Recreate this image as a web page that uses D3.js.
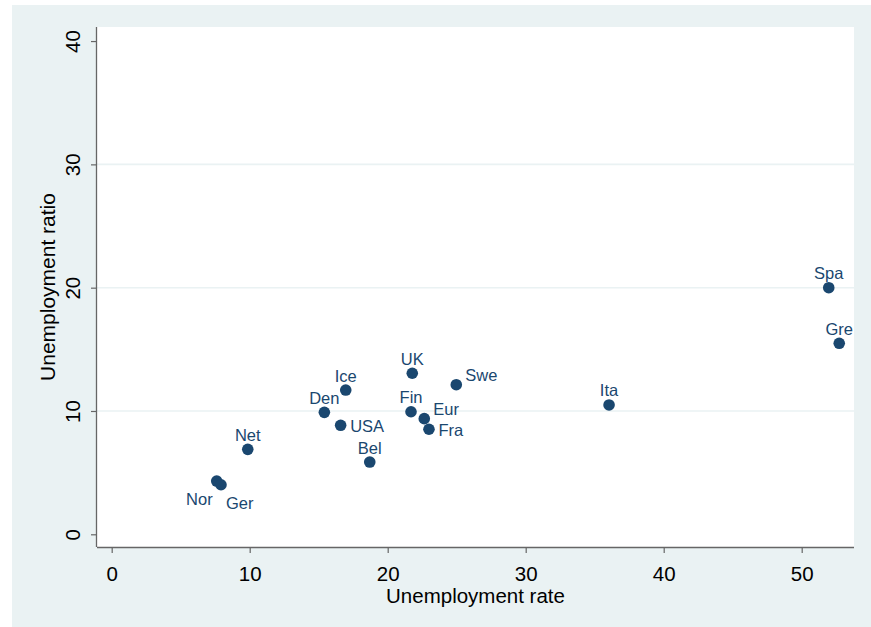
<!DOCTYPE html>
<html>
<head>
<meta charset="utf-8">
<script src="https://cdn.jsdelivr.net/npm/d3@7"></script>
<style>
  html, body { margin: 0; padding: 0; background: #ffffff; }
  svg { display: block; font-family: "Liberation Sans", Arial, Helvetica, sans-serif; }
</style>
</head>
<body>
<svg id="chart" width="871" height="627"></svg>
<script>
// ---- data ----
const countries = ["Nor", "Ger", "Net", "Den", "Ice", "USA", "Bel", "UK", "Fin", "Eur", "Fra", "Swe", "Ita", "Spa", "Gre"];
const unemploymentRate = [7.61, 7.92, 9.86, 15.41, 16.96, 16.59, 18.70, 21.78, 21.69, 22.65, 22.99, 24.97, 36.04, 51.96, 52.72];
const unemploymentRatio = [4.32, 4.02, 6.89, 9.89, 11.70, 8.84, 5.86, 13.06, 9.94, 9.38, 8.52, 12.13, 10.49, 20.00, 15.49];
// marker-label clock positions (as in the source graph)
const labelClock = [7, 5, 12, 12, 12, 3, 12, 12, 12, 2, 3, 2, 12, 12, 12];
const xTicks = [0, 10, 20, 30, 40, 50];
const yTicks = [0, 10, 20, 30, 40];
const yGrid = [10, 20, 30];
const xTitle = "Unemployment rate";
const yTitle = "Unemployment ratio";

// ---- layout ----
const W = 871, H = 627;
const plot = { left: 97, right: 854, top: 27, bottom: 547 };
const navy = "#1a476f";
const bg = "#eaf2f3";
const axisColor = "#666666";

const svg = d3.select("#chart");

svg.append("rect").attr("x", 12).attr("y", 5).attr("width", W - 12).attr("height", H - 5).attr("fill", bg);
svg.append("rect").attr("x", plot.left).attr("y", plot.top)
  .attr("width", plot.right - plot.left).attr("height", plot.bottom - plot.top).attr("fill", "#ffffff");

const x = d3.scaleLinear().domain([-1.065, 53.79]).range([plot.left, plot.right]);
const y = d3.scaleLinear().domain([-1.03, 41.14]).range([plot.bottom, plot.top]);

// gridlines
svg.append("g").selectAll("line").data(yGrid).join("line")
  .attr("x1", plot.left).attr("x2", plot.right)
  .attr("y1", d => y(d)).attr("y2", d => y(d))
  .attr("stroke", bg).attr("stroke-width", 1.6);

// x axis
const xAxis = svg.append("g").attr("transform", `translate(0,${plot.bottom})`)
  .call(d3.axisBottom(x).tickValues(xTicks).tickSize(6).tickPadding(8).tickFormat(d3.format("d")));
xAxis.select(".domain").attr("d", `M${plot.left},0.5H${plot.right}`).attr("stroke", axisColor).attr("stroke-width", 1.3);
xAxis.selectAll(".tick line").attr("stroke", axisColor).attr("stroke-width", 1.2);
xAxis.selectAll(".tick text").attr("font-size", 20.5).attr("fill", "#000").attr("font-family", "Liberation Sans, Arial, sans-serif")
  .attr("dy", null).attr("y", 34);

// y axis
const yAxis = svg.append("g").attr("transform", `translate(${plot.left},0)`)
  .call(d3.axisLeft(y).tickValues(yTicks).tickSize(6).tickFormat(d3.format("d")));
yAxis.select(".domain").attr("d", `M-0.5,${plot.top}V${plot.bottom}`).attr("stroke", axisColor).attr("stroke-width", 1.3);
yAxis.selectAll(".tick line").attr("stroke", axisColor).attr("stroke-width", 1.2);
yAxis.selectAll(".tick text")
  .attr("font-size", 20.5).attr("fill", "#000").attr("font-family", "Liberation Sans, Arial, sans-serif")
  .attr("x", null).attr("dy", null)
  .attr("text-anchor", "middle")
  .attr("transform", "translate(-17,0) rotate(-90)");

// axis titles
svg.append("text").attr("x", (plot.left + plot.right) / 2).attr("y", 603)
  .attr("text-anchor", "middle").attr("font-size", 20.5).attr("fill", "#000").text(xTitle);
svg.append("text")
  .attr("transform", `translate(55,${(plot.top + plot.bottom) / 2}) rotate(-90)`)
  .attr("text-anchor", "middle").attr("font-size", 21).attr("fill", "#000").text(yTitle);

// points
const pts = countries.map((c, i) => ({ c, vx: unemploymentRate[i], vy: unemploymentRatio[i], pos: labelClock[i] }));
svg.append("g").selectAll("circle").data(pts).join("circle")
  .attr("cx", d => x(d.vx)).attr("cy", d => y(d.vy)).attr("r", 5.8).attr("fill", navy);

// labels
function labelAttrs(d) {
  const px = x(d.vx), py = y(d.vy);
  switch (d.pos) {
    case 12: return { x: px, y: py - 8.5, anchor: "middle" };
    case 3: return { x: px + 9.5, y: py + 7, anchor: "start" };
    case 2: return { x: px + 9, y: py - 4, anchor: "start" };
    case 5: return { x: px + 5, y: py + 24, anchor: "start" };
    case 7: return { x: px - 4, y: py + 24, anchor: "end" };
    default: return { x: px + 9.5, y: py + 7, anchor: "start" };
  }
}
svg.append("g").selectAll("text").data(pts).join("text")
  .each(function (d) {
    const a = labelAttrs(d);
    d3.select(this).attr("x", a.x).attr("y", a.y).attr("text-anchor", a.anchor);
  })
  .attr("font-size", 16.5).attr("fill", navy).text(d => d.c);
</script>
</body>
</html>
